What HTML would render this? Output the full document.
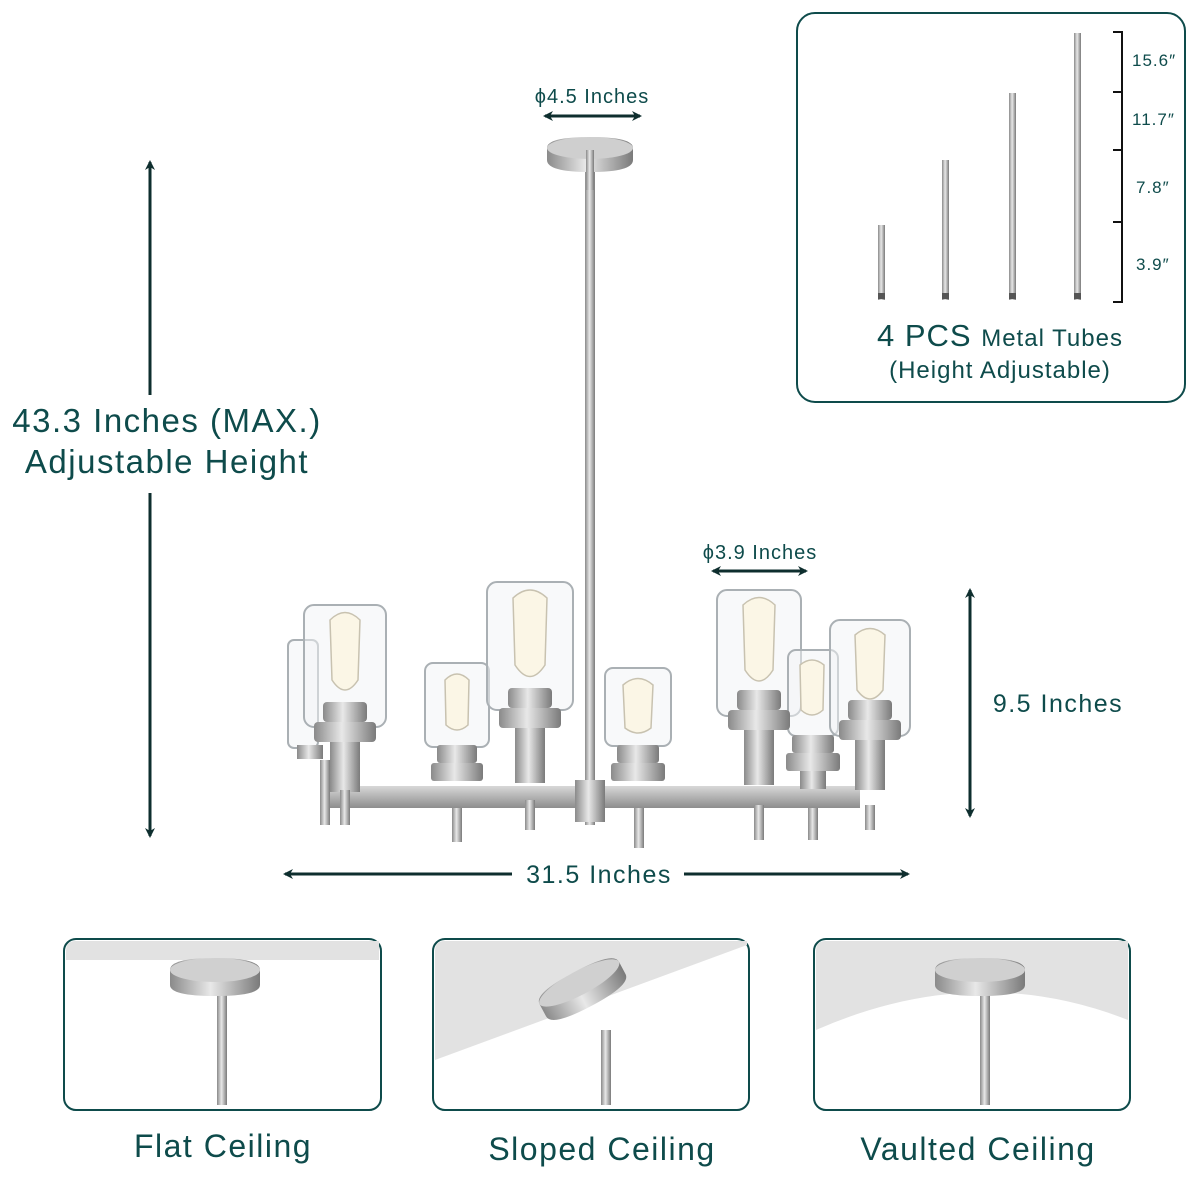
<!DOCTYPE html>
<html><head><meta charset="utf-8"><style>
html,body{margin:0;padding:0;background:#fff}
svg{display:block}
text{font-family:"Liberation Sans",sans-serif;fill:#0e4b4b;letter-spacing:1px}
</style></head><body>
<svg width="1200" height="1200" viewBox="0 0 1200 1200" xmlns="http://www.w3.org/2000/svg">
<defs>
<linearGradient id="m" x1="0" x2="1"><stop offset="0" stop-color="#8a8a8a"/><stop offset=".45" stop-color="#e8e8e8"/><stop offset="1" stop-color="#7a7a7a"/></linearGradient>
<linearGradient id="mh" x1="0" y1="0" x2="0" y2="1"><stop offset="0" stop-color="#d8d8d8"/><stop offset="1" stop-color="#8d8d8d"/></linearGradient>
<marker id="a" markerWidth="10" markerHeight="10" refX="8" refY="5" orient="auto-start-reverse" markerUnits="userSpaceOnUse"><path d="M0,0 L10,5 L0,10 L3,5z" fill="#0e2e2e"/></marker>
</defs>

<rect x="797" y="13" width="388" height="389" rx="18" fill="#fff" stroke="#0e4b4b" stroke-width="2"/>
<rect x="878" y="225" width="7" height="75" fill="url(#m)"/>
<rect x="942" y="160" width="7" height="140" fill="url(#m)"/>
<rect x="1009" y="93" width="7" height="207" fill="url(#m)"/>
<rect x="1074" y="33" width="7" height="267" fill="url(#m)"/>
<g fill="#555"><rect x="878" y="293" width="7" height="6"/><rect x="942" y="293" width="7" height="6"/><rect x="1009" y="293" width="7" height="6"/><rect x="1074" y="293" width="7" height="6"/></g>
<path d="M1113,32 H1122 V302 H1113 M1113,92 H1122 M1113,150 H1122 M1113,222 H1122" fill="none" stroke="#111" stroke-width="2"/>
<text x="1132" y="66" font-size="17">15.6″</text>
<text x="1132" y="125" font-size="17">11.7″</text>
<text x="1136" y="193" font-size="17">7.8″</text>
<text x="1136" y="270" font-size="17">3.9″</text>
<text x="877" y="346" font-size="31">4 PCS <tspan font-size="24">Metal Tubes</tspan></text>
<text x="1000" y="378" font-size="24" text-anchor="middle">(Height Adjustable)</text>

<line x1="150" y1="395" x2="150" y2="162" stroke="#0e2e2e" stroke-width="3" marker-end="url(#a)"/>
<line x1="150" y1="493" x2="150" y2="836" stroke="#0e2e2e" stroke-width="3" marker-end="url(#a)"/>
<text x="167" y="432" font-size="33" text-anchor="middle" style="letter-spacing:1.5px">43.3 Inches (MAX.)</text>
<text x="167" y="473" font-size="33" text-anchor="middle" style="letter-spacing:1.5px">Adjustable Height</text>

<text x="592" y="103" font-size="20" text-anchor="middle">ϕ4.5 Inches</text>
<line x1="545" y1="116" x2="640" y2="116" stroke="#0e2e2e" stroke-width="3" marker-start="url(#a)" marker-end="url(#a)"/>

<rect x="585" y="160" width="10" height="665" fill="url(#m)"/>
<path d="M547,148 Q547,137 590,137 Q633,137 633,148 V160 Q633,172 590,172 Q547,172 547,160Z" fill="url(#m)"/>
<ellipse cx="590" cy="148" rx="43" ry="11" fill="#cfcfcf"/>
<rect x="586" y="150" width="8" height="40" fill="url(#m)"/>

<rect x="330" y="786" width="530" height="22" fill="url(#mh)"/>
<rect x="575" y="780" width="30" height="42" fill="url(#m)"/>
<rect x="452" y="808" width="10" height="34" fill="url(#m)"/>
<rect x="634" y="808" width="10" height="40" fill="url(#m)"/>
<rect x="808" y="808" width="10" height="32" fill="url(#m)"/>

<g stroke="#aab0b4" stroke-width="2" fill="#f2f4f5" fill-opacity=".5">
<rect x="288" y="640" width="30" height="108" rx="6"/>
<rect x="304" y="605" width="82" height="122" rx="10"/>
<rect x="425" y="663" width="64" height="84" rx="8"/>
<rect x="487" y="582" width="86" height="128" rx="10"/>
<rect x="605" y="668" width="66" height="78" rx="8"/>
<rect x="717" y="590" width="84" height="126" rx="10"/>
<rect x="788" y="650" width="50" height="86" rx="8"/>
<rect x="830" y="620" width="80" height="116" rx="10"/>
</g>
<g fill="#fbf6e6" stroke="#c8c2b0" stroke-width="1.5">
<path d="M330,620 Q345,605 360,620 L358,680 Q345,700 332,680Z"/>
<path d="M445,680 Q457,668 469,680 L468,725 Q457,735 446,725Z"/>
<path d="M513,598 Q530,582 547,598 L545,665 Q530,688 515,665Z"/>
<path d="M623,685 Q638,672 653,685 L651,728 Q638,738 625,728Z"/>
<path d="M743,605 Q759,590 775,605 L773,670 Q759,692 745,670Z"/>
<path d="M800,665 Q812,655 824,665 L823,710 Q812,720 801,710Z"/>
<path d="M855,635 Q870,622 885,635 L883,690 Q870,708 857,690Z"/>
</g>
<g fill="url(#m)">
<rect x="297" y="745" width="26" height="14"/><rect x="320" y="760" width="10" height="65"/>
<rect x="323" y="702" width="44" height="20" rx="4"/><rect x="314" y="722" width="62" height="20" rx="4"/><rect x="330" y="742" width="30" height="50"/><rect x="340" y="790" width="10" height="35"/>
<rect x="437" y="745" width="40" height="18" rx="3"/><rect x="431" y="763" width="52" height="18" rx="3"/>
<rect x="508" y="688" width="44" height="20" rx="4"/><rect x="499" y="708" width="62" height="20" rx="4"/><rect x="515" y="728" width="30" height="55"/><rect x="525" y="800" width="10" height="30"/>
<rect x="617" y="745" width="42" height="18" rx="3"/><rect x="611" y="763" width="54" height="18" rx="3"/>
<rect x="737" y="690" width="44" height="20" rx="4"/><rect x="728" y="710" width="62" height="20" rx="4"/><rect x="744" y="730" width="30" height="55"/><rect x="754" y="805" width="10" height="35"/>
<rect x="792" y="735" width="42" height="18" rx="3"/><rect x="786" y="753" width="54" height="18" rx="3"/><rect x="800" y="771" width="26" height="18"/>
<rect x="848" y="700" width="44" height="20" rx="4"/><rect x="839" y="720" width="62" height="20" rx="4"/><rect x="855" y="740" width="30" height="50"/><rect x="865" y="805" width="10" height="25"/>
</g>

<text x="760" y="559" font-size="20" text-anchor="middle">ϕ3.9 Inches</text>
<line x1="713" y1="571" x2="806" y2="571" stroke="#0e2e2e" stroke-width="3" marker-start="url(#a)" marker-end="url(#a)"/>

<line x1="970" y1="590" x2="970" y2="816" stroke="#0e2e2e" stroke-width="3" marker-start="url(#a)" marker-end="url(#a)"/>
<text x="1058" y="712" font-size="25" text-anchor="middle" style="letter-spacing:1.5px">9.5 Inches</text>

<line x1="512" y1="874" x2="285" y2="874" stroke="#0e2e2e" stroke-width="3" marker-end="url(#a)"/>
<line x1="684" y1="874" x2="908" y2="874" stroke="#0e2e2e" stroke-width="3" marker-end="url(#a)"/>
<text x="599" y="883" font-size="25" text-anchor="middle" style="letter-spacing:1.5px">31.5 Inches</text>

<g>
<rect x="64" y="939" width="317" height="171" rx="12" fill="#fff" stroke="#0e4b4b" stroke-width="2"/>
<path d="M66,960 H379 V941 H76 Q66,941 66,951Z" fill="#e2e2e2"/>
<rect x="217" y="990" width="10" height="115" fill="url(#m)"/>
<path d="M170,970 Q170,958 215,958 Q260,958 260,970 V985 Q260,996 215,996 Q170,996 170,985Z" fill="url(#m)"/>
<ellipse cx="215" cy="970" rx="45" ry="12" fill="#d0d0d0"/>

<rect x="433" y="939" width="316" height="171" rx="12" fill="#fff" stroke="#0e4b4b" stroke-width="2"/>
<path d="M435,1060 L747,945 V941 H445 Q435,941 435,951Z" fill="#e2e2e2"/>
<rect x="601" y="1030" width="10" height="75" fill="url(#m)"/>
<g transform="rotate(-28 583 990)">
<path d="M538,982 Q538,970 583,970 Q628,970 628,982 V996 Q628,1008 583,1008 Q538,1008 538,996Z" fill="url(#m)"/>
<ellipse cx="583" cy="982" rx="45" ry="12" fill="#d0d0d0"/>
</g>

<rect x="814" y="939" width="316" height="171" rx="12" fill="#fff" stroke="#0e4b4b" stroke-width="2"/>
<path d="M816,1030 Q975,960 1128,1020 V941 H826 Q816,941 816,951Z" fill="#e2e2e2"/>
<rect x="980" y="990" width="10" height="115" fill="url(#m)"/>
<path d="M935,970 Q935,958 980,958 Q1025,958 1025,970 V985 Q1025,996 980,996 Q935,996 935,985Z" fill="url(#m)"/>
<ellipse cx="980" cy="970" rx="45" ry="12" fill="#d0d0d0"/>
</g>
<text x="223" y="1157" font-size="32" text-anchor="middle" style="letter-spacing:1.5px">Flat Ceiling</text>
<text x="602" y="1160" font-size="32" text-anchor="middle" style="letter-spacing:1.5px">Sloped Ceiling</text>
<text x="978" y="1160" font-size="32" text-anchor="middle" style="letter-spacing:1.5px">Vaulted Ceiling</text>
</svg>
</body></html>
